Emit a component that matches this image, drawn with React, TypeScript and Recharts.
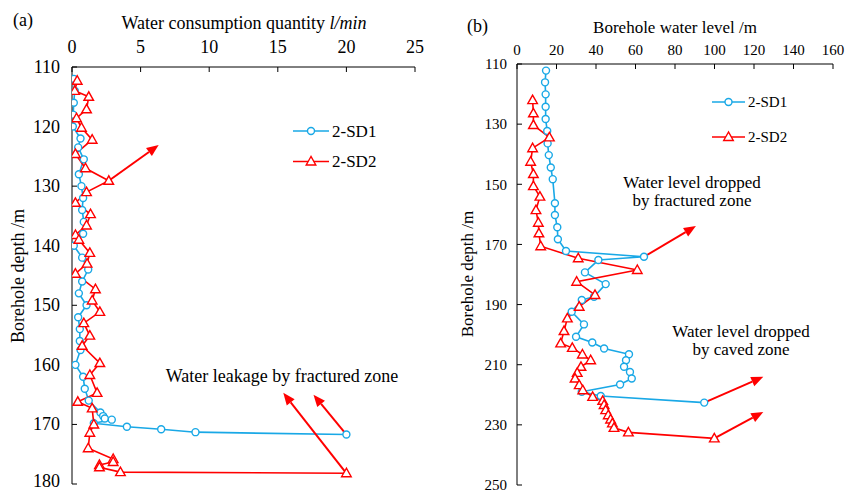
import React from 'react';
import { LineChart, Line, XAxis, YAxis, ReferenceLine } from 'recharts';

const BLUE = '#19A8E6';
const RED = '#FF0000';
const FONT = "'Times New Roman', Times, 'Liberation Serif', 'DejaVu Serif', 'Noto Serif', serif";

// (a) water consumption quantity, l/min, against borehole depth
const sd1DepthA = [112, 114, 116, 118, 120, 122, 123.5, 125.5, 128, 130, 132, 134, 136, 138, 140, 142, 144, 146, 148, 150, 152, 154, 156, 157.5, 160, 162, 164, 166, 168, 168.6, 169, 169.2, 169.8, 170.4, 170.8, 171.3, 171.7];
const sd1FlowA = [0.13, 0.2, 0.13, 0.08, 0.06, 0.62, 0.45, 0.86, 0.5, 0.69, 0.81, 0.74, 0.86, 0.81, 0.13, 0.74, 1.18, 0.74, 0.5, 1.06, 0.45, 0.57, 0.57, 0.62, 0.25, 0.81, 0.93, 1.22, 2.07, 2.27, 2.39, 2.9, 1.59, 4.0, 6.5, 9.0, 20.0];
const sd2DepthA = [112.3, 114.0, 115.0, 117.1, 118.6, 120.2, 122.2, 124.6, 127.0, 129.1, 131.0, 132.8, 134.7, 136.6, 138.2, 139.0, 141.2, 143.0, 144.7, 147.3, 149.2, 151.1, 153.0, 155.1, 156.8, 159.7, 161.7, 164.7, 166.2, 167.3, 170.0, 171.4, 174.0, 175.8, 176.3, 176.8, 177.2, 178.0, 178.2];
const sd2FlowA = [0.38, 0.2, 1.22, 1.06, 0.33, 0.69, 1.47, 0.25, 0.98, 2.68, 1.06, 0.25, 1.35, 1.06, 0.25, 0.5, 1.3, 1.1, 0.25, 1.71, 1.47, 2.03, 0.86, 1.3, 0.74, 2.03, 1.3, 1.83, 0.42, 1.47, 1.59, 1.3, 1.18, 3.0, 3.0, 2.0, 2.0, 3.53, 20.0];
const flowTicks = [0, 5, 10, 15, 20, 25];
const depthTicksA = [110, 120, 130, 140, 150, 160, 170, 180];

// (b) borehole water level, m
const sd1DepthB = [112.2, 116.1, 120.1, 124.2, 128.3, 132.3, 136.4, 140.3, 144.4, 148.3, 156.3, 160.2, 164.3, 168.3, 172.2, 174.1, 175.2, 179.3, 183.2, 187.4, 188.5, 192.4, 196.6, 200.7, 202.6, 204.6, 206.5, 208.5, 210.7, 212.4, 214.6, 216.6, 219.0, 220.4, 222.6];
const sd1LevelB = [14.7, 14.2, 14.5, 14.5, 14.5, 15.3, 15.5, 16.1, 17.1, 18.1, 19.2, 19.2, 20.4, 20.7, 24.8, 64.3, 41.2, 34.4, 44.9, 39.0, 32.8, 27.7, 33.9, 29.9, 38.1, 44.1, 56.7, 55.2, 54.2, 57.2, 58.1, 52.2, 32.8, 42.4, 94.8];
const sd2DepthB = [122.0, 126.4, 130.3, 134.4, 138.0, 142.5, 146.6, 150.6, 154.1, 158.6, 162.8, 166.3, 170.6, 174.6, 178.5, 182.4, 186.8, 190.7, 194.6, 198.8, 202.9, 204.4, 206.6, 208.5, 210.7, 212.7, 214.6, 216.8, 218.5, 220.7, 222.0, 223.4, 225.1, 226.8, 228.2, 229.5, 231.0, 232.5, 234.5];
const sd2LevelB = [7.9, 8.3, 8.3, 16.4, 7.9, 6.9, 8.3, 8.3, 11.6, 9.6, 10.8, 11.1, 12.0, 31.0, 60.9, 30.2, 39.5, 31.5, 25.5, 23.8, 22.1, 28.0, 33.1, 37.3, 32.4, 30.5, 29.4, 31.5, 33.3, 38.3, 43.4, 44.1, 44.9, 46.2, 47.4, 48.3, 49.1, 56.4, 99.9];
const levelTicks = [0, 20, 40, 60, 80, 100, 120, 140, 160];
const depthTicksB = [110, 130, 150, 170, 190, 210, 230, 250];

// annotation arrows: [value1, depth1, value2, depth2]
const arrowsA = [
  [2.68, 129.1, 6.32, 123.1],
  [20, 171.7, 17.6, 165.0],
  [20, 178.2, 15.4, 164.7],
];
const arrowsB = [
  [64.3, 174.1, 90.6, 163.9],
  [94.8, 222.6, 124.7, 214.0],
  [99.9, 234.5, 124.7, 225.7],
];

const toRows = (depths: number[], values: number[]) =>
  depths.map((depth, i) => ({ depth, value: values[i] }));

const circleDot = (props: any) => {
  const { cx, cy, index } = props;
  if (cx == null || cy == null) return <g key={`c-${index}`} />;
  return <circle key={`c-${index}`} cx={cx} cy={cy} r={3.5} fill="#fff" stroke={BLUE} strokeWidth={1.4} />;
};

const triangleDot = (props: any) => {
  const { cx, cy, index } = props;
  if (cx == null || cy == null) return <g key={`t-${index}`} />;
  const pts = `${cx},${cy - 5} ${cx - 4.8},${cy + 3.5} ${cx + 4.8},${cy + 3.5}`;
  return <polygon key={`t-${index}`} points={pts} fill="#fff" stroke={RED} strokeWidth={1.4} />;
};

// depth labels of panel (a); the lowest one is nudged up so it stays inside the frame
const depthTickA = (p: any) => {
  const { x, y, payload } = p;
  return (
    <text x={x} y={Math.min(y, 481)} dy={6} textAnchor="end" fontSize={18} fill="#000" fontFamily={FONT}>
      {payload.value}
    </text>
  );
};

const arrowShape = (p: any) => {
  const { x1, y1, x2, y2 } = p;
  const dx = x2 - x1;
  const dy = y2 - y1;
  const len = Math.hypot(dx, dy) || 1;
  const ux = dx / len;
  const uy = dy / len;
  const head = 12;
  const half = 5;
  const bx = x2 - ux * head;
  const by = y2 - uy * head;
  return (
    <g>
      <line x1={x1} y1={y1} x2={bx} y2={by} stroke={RED} strokeWidth={2} />
      <polygon
        points={`${x2},${y2} ${bx - uy * half},${by + ux * half} ${bx + uy * half},${by - ux * half}`}
        fill={RED}
      />
    </g>
  );
};

const axisStyle = { stroke: '#000', strokeWidth: 1 };

const App: React.FC = () => {
  const sd1A = toRows(sd1DepthA, sd1FlowA);
  const sd2A = toRows(sd2DepthA, sd2FlowA);
  const sd1B = toRows(sd1DepthB, sd1LevelB);
  const sd2B = toRows(sd2DepthB, sd2LevelB);

  return (
    <div style={{ position: 'absolute', left: 0, top: 0, width: 846, height: 492, overflow: 'hidden', background: '#fff', fontFamily: FONT }}>
      <div style={{ position: 'absolute', left: 0, top: 0 }}>
        <LineChart width={430} height={492} layout="vertical" margin={{ top: 37, right: 15, bottom: 8, left: 32 }}>
          <XAxis
            type="number"
            dataKey="value"
            orientation="top"
            domain={[0, 25]}
            ticks={flowTicks}
            interval={0}
            allowDataOverflow
            height={30}
            tickSize={-5}
            tickMargin={19}
            axisLine={axisStyle}
            tickLine={axisStyle}
            tick={{ fill: '#000', fontSize: 18, fontFamily: FONT }}
          />
          <YAxis
            type="number"
            dataKey="depth"
            domain={[110, 180]}
            ticks={depthTicksA}
            interval={0}
            allowDataOverflow
            width={40}
            tickSize={-5}
            tickMargin={17}
            axisLine={axisStyle}
            tickLine={axisStyle}
            tick={depthTickA}
          />
          <Line data={sd1A} dataKey="value" name="2-SD1" stroke={BLUE} strokeWidth={1.6} dot={circleDot} isAnimationActive={false} />
          <Line data={sd2A} dataKey="value" name="2-SD2" stroke={RED} strokeWidth={1.6} dot={triangleDot} isAnimationActive={false} />
          {arrowsA.map((a, i) => (
            <ReferenceLine key={`aa-${i}`} segment={[{ x: a[0], y: a[1] }, { x: a[2], y: a[3] }]} shape={arrowShape} ifOverflow="visible" />
          ))}
        </LineChart>
      </div>

      <div style={{ position: 'absolute', left: 440, top: 0 }}>
        <LineChart width={406} height={492} layout="vertical" margin={{ top: 34, right: 13, bottom: 7, left: 37 }}>
          <XAxis
            type="number"
            dataKey="value"
            orientation="top"
            domain={[0, 160]}
            ticks={levelTicks}
            interval={0}
            allowDataOverflow
            height={30}
            tickSize={-5}
            tickMargin={14}
            axisLine={axisStyle}
            tickLine={axisStyle}
            tick={{ fill: '#000', fontSize: 15, fontFamily: FONT }}
          />
          <YAxis
            type="number"
            dataKey="depth"
            domain={[110, 250]}
            ticks={depthTicksB}
            interval={0}
            allowDataOverflow
            width={40}
            tickSize={-5}
            tickMargin={15}
            axisLine={axisStyle}
            tickLine={axisStyle}
            tick={{ fill: '#000', fontSize: 15, fontFamily: FONT }}
          />
          <Line data={sd1B} dataKey="value" name="2-SD1" stroke={BLUE} strokeWidth={1.6} dot={circleDot} isAnimationActive={false} />
          <Line data={sd2B} dataKey="value" name="2-SD2" stroke={RED} strokeWidth={1.6} dot={triangleDot} isAnimationActive={false} />
          {arrowsB.map((a, i) => (
            <ReferenceLine key={`ab-${i}`} segment={[{ x: a[0], y: a[1] }, { x: a[2], y: a[3] }]} shape={arrowShape} ifOverflow="visible" />
          ))}
        </LineChart>
      </div>

      <svg width={846} height={492} style={{ position: 'absolute', left: 0, top: 0, pointerEvents: 'none', fontFamily: FONT }} fill="#000">
        {/* panel (a) */}
        <text x={13} y={26} fontSize={18}>(a)</text>
        <text x={244} y={29} fontSize={18} textAnchor="middle">
          Water consumption quantity <tspan fontStyle="italic">l/min</tspan>
        </text>
        <text transform="translate(24,276) rotate(-90)" fontSize={18} textAnchor="middle">Borehole depth /m</text>
        <text x={282} y={382} fontSize={18} textAnchor="middle">Water leakage by fractured zone</text>
        <line x1={293} y1={131} x2={329} y2={131} stroke={BLUE} strokeWidth={1.6} />
        <circle cx={311} cy={131} r={3.5} fill="#fff" stroke={BLUE} strokeWidth={1.4} />
        <text x={332} y={137} fontSize={17}>2-SD1</text>
        <line x1={293} y1={161.5} x2={329} y2={161.5} stroke={RED} strokeWidth={1.6} />
        <polygon points="311,156.5 306.2,165 315.8,165" fill="#fff" stroke={RED} strokeWidth={1.4} />
        <text x={332} y={167} fontSize={17}>2-SD2</text>

        {/* panel (b) */}
        <text x={467} y={32} fontSize={18}>(b)</text>
        <text x={675} y={33} fontSize={17} textAnchor="middle">Borehole water level /m</text>
        <text transform="translate(473,274) rotate(-90)" fontSize={17} textAnchor="middle">Borehole depth /m</text>
        <text x={692} y={188} fontSize={17} textAnchor="middle">Water level dropped</text>
        <text x={692} y={206} fontSize={17} textAnchor="middle">by fractured zone</text>
        <text x={741} y={337} fontSize={17} textAnchor="middle">Water level dropped</text>
        <text x={741} y={355} fontSize={17} textAnchor="middle">by caved zone</text>
        <line x1={712} y1={102} x2={745} y2={102} stroke={BLUE} strokeWidth={1.6} />
        <circle cx={728.5} cy={102} r={3.5} fill="#fff" stroke={BLUE} strokeWidth={1.4} />
        <text x={748} y={107} fontSize={15}>2-SD1</text>
        <line x1={712} y1={137} x2={745} y2={137} stroke={RED} strokeWidth={1.6} />
        <polygon points="728.5,132 723.7,140.5 733.3,140.5" fill="#fff" stroke={RED} strokeWidth={1.4} />
        <text x={748} y={142} fontSize={15}>2-SD2</text>
      </svg>
    </div>
  );
};

export default App;
